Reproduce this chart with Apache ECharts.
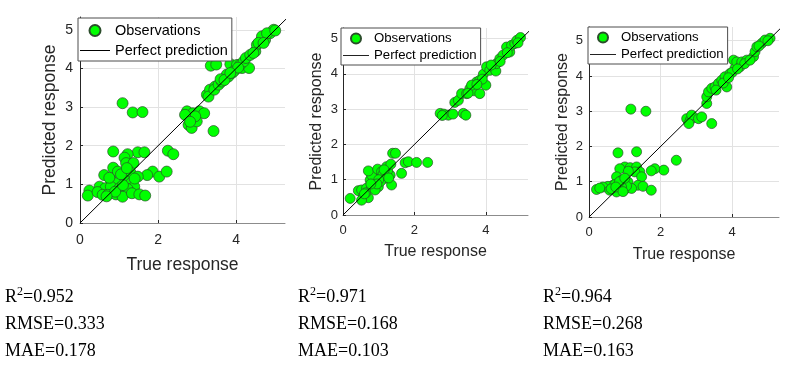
<!DOCTYPE html>
<html>
<head>
<meta charset="utf-8">
<script src="https://cdn.jsdelivr.net/npm/echarts@6/dist/echarts.min.js"></script>
<style>
  html, body { margin: 0; padding: 0; background: #fff; }
  #chart { width: 790px; height: 374px; }
</style>
</head>
<body>
<div id="chart"></div>
<script>
// observations as [true response, predicted response], one array per model
const obs1 = [
  [1.09,3.10],[1.35,2.86],[1.60,2.87],[0.85,1.85],[1.48,1.83],[1.65,1.83],[1.22,1.78],[1.14,1.69],
  [2.25,1.87],[2.39,1.78],[1.18,1.55],[1.37,1.55],[0.85,1.43],[0.62,1.24],[0.97,1.33],[1.29,1.31],
  [1.86,1.33],[1.72,1.24],[2.03,1.20],[2.22,1.33],[1.48,1.20],[1.14,1.11],[0.79,1.11],[0.92,1.03],
  [1.31,1.03],[1.39,0.94],[0.50,0.94],[0.65,0.90],[0.79,0.94],[1.01,0.90],[1.22,0.88],[0.24,0.84],
  [0.20,0.71],[0.45,0.80],[0.58,0.73],[0.71,0.73],[0.92,0.74],[1.09,0.68],[1.33,0.77],[1.52,0.74],
  [1.67,0.71],[0.90,0.81],[1.05,1.26],[0.75,1.17],[1.20,1.42],[1.40,1.15],[0.68,0.69],[1.10,0.98],
  [3.35,4.07],[3.49,4.10],[3.42,2.38],[2.74,2.89],[2.89,2.84],[3.06,2.89],[3.18,2.84],[2.78,2.54],
  [2.86,2.46],[2.99,2.63],[2.95,2.76],[2.69,2.80],[2.82,2.62],[3.25,3.32],[3.33,3.45],[3.46,3.53],
  [3.29,3.27],[3.44,3.45],[3.55,3.58],[3.63,3.66],[3.72,3.75],[3.80,3.79],[3.89,3.88],[3.97,3.96],
  [4.15,4.01],[4.33,4.01],[3.85,4.11],[4.02,4.09],[4.10,4.09],[4.19,4.18],[4.25,4.27],[4.36,4.35],
  [4.49,4.44],[4.53,4.61],[4.62,4.70],[4.74,4.74],[4.87,4.91],[4.96,5.00],[3.76,3.84],[3.93,3.92],
  [3.60,3.72],[4.05,4.02],[4.44,4.40],[4.66,4.83],[4.79,4.91],[4.57,4.66],[4.70,4.66],[5.00,4.98],
  [3.70,3.70],[3.85,3.88]
];
const obs2 = [
  [0.20,0.47],[0.43,0.69],[0.52,0.71],[0.66,0.76],[0.57,0.52],[0.71,0.49],[0.52,0.42],[0.64,0.63],
  [0.80,0.82],[0.90,0.90],[0.76,0.99],[0.99,0.80],[0.85,0.76],[0.90,0.71],[1.04,1.09],[1.18,1.04],
  [1.32,1.13],[0.80,1.13],[0.71,1.25],[0.97,1.30],[1.08,1.23],[1.25,1.26],[1.22,1.37],[1.34,1.44],
  [1.39,1.75],[1.47,1.75],[1.74,1.48],[1.83,1.51],[2.06,1.49],[2.37,1.49],[1.64,1.18],[1.36,0.85],
  [1.05,0.95],[1.12,1.15],[0.60,0.60],[1.00,1.00],[0.95,0.88],[1.15,1.28],[0.78,0.88],[1.28,1.05],
  [2.72,2.88],[2.82,2.86],[2.95,2.83],[3.08,2.86],[2.78,2.82],[3.37,2.88],[3.44,2.83],[3.13,3.19],
  [3.23,3.25],[3.32,3.44],[3.46,3.44],[3.55,3.58],[3.65,3.63],[3.67,3.52],[3.74,3.77],[3.83,3.82],
  [3.83,3.44],[3.93,3.99],[4.00,3.68],[4.02,4.20],[4.11,4.10],[4.20,4.20],[4.28,4.08],[4.30,4.29],
  [4.39,4.43],[4.48,4.53],[4.58,4.76],[4.67,4.62],[4.72,4.81],[4.81,4.86],[4.87,4.95],[4.97,5.03],
  [3.60,3.68],[3.50,3.45],[4.15,4.25],[4.40,4.35],[4.60,4.60],[4.90,4.88],[3.90,3.85],[3.75,3.70]
];
const obs3 = [
  [1.17,3.06],[1.59,3.00],[0.81,1.82],[1.33,1.85],[2.44,1.61],[2.09,1.33],[1.84,1.37],[1.74,1.31],
  [1.00,1.42],[0.86,1.37],[1.15,1.40],[1.33,1.42],[1.42,1.28],[1.28,1.28],[1.10,1.30],[1.47,1.14],
  [0.77,1.14],[0.91,1.04],[1.09,0.99],[0.81,0.95],[0.67,0.90],[0.53,0.87],[0.39,0.85],[0.21,0.78],
  [0.30,0.82],[1.37,0.90],[1.51,0.87],[1.74,0.76],[1.00,0.78],[0.77,0.71],[0.58,0.76],[1.19,0.81],
  [1.05,0.88],[0.91,0.85],[0.72,0.92],[0.62,0.80],[0.85,1.00],[1.00,1.10],[0.75,0.85],[0.95,0.72],
  [2.73,2.79],[2.83,2.75],[2.87,2.89],[3.06,2.79],[3.15,2.84],[2.79,2.65],[3.43,2.65],[3.29,3.22],
  [3.29,3.41],[3.34,3.55],[3.43,3.65],[3.52,3.69],[3.62,3.79],[3.71,3.88],[3.80,3.98],[3.85,3.69],
  [3.94,4.07],[4.04,4.45],[4.08,4.22],[4.13,4.40],[4.22,4.26],[4.27,4.40],[4.41,4.45],[4.60,4.55],
  [4.64,4.69],[4.69,4.83],[4.83,4.93],[4.92,5.02],[5.06,5.07],[3.55,3.60],[3.75,3.80],[4.00,4.10],
  [4.35,4.35],[4.50,4.45],[4.75,4.85],[5.00,5.00],[3.90,3.95],[4.15,4.20]
];
// y = x reference line (clipped by the axes)
const perfectLine = [[0, 0], [6, 6]];

const r2Vals = ['0.952', '0.971', '0.964'];
const rmseVals = ['0.333', '0.168', '0.268'];
const maeVals = ['0.178', '0.103', '0.163'];

const axisColor = '#262626';
const font = 'Liberation Sans, Arial, sans-serif';

// layout of the three panels
const panels = [
  { data: obs1, left: 80, top: 17, width: 205, height: 206, xMax: 5.25, yMax: 5.33,
    nameSize: 17.5, tickSize: 14, legendSize: 14.5, sym: 11, xGap: 33, yGap: 21, xMargin: 10, yMargin: 7,
    legLeft: 78, legTop: 18, legW: 30, legH: 11, legGap: 5, legPad: [5, 4, 3, 2], textX: 5 },
  { data: obs2, left: 343, top: 28, width: 185, height: 187, xMax: 5.18, yMax: 5.3,
    nameSize: 16, tickSize: 13, legendSize: 13.2, sym: 10, xGap: 29, yGap: 18, xMargin: 9, yMargin: 5,
    legLeft: 341, legTop: 28, legW: 26, legH: 10, legGap: 4, legPad: [4, 4, 3, 2], textX: 298 },
  { data: obs3, left: 589, top: 27, width: 190, height: 190, xMax: 5.31, yMax: 5.39,
    nameSize: 16, tickSize: 13, legendSize: 13.2, sym: 10, xGap: 30, yGap: 18, xMargin: 9, yMargin: 6,
    legLeft: 588, legTop: 27, legW: 26, legH: 10, legGap: 4, legPad: [4, 4, 3, 2], textX: 543 }
];

const myChart = echarts.init(document.getElementById('chart'), null, { renderer: 'canvas' });

const option = {
  animation: false,
  backgroundColor: '#fff',
  grid: panels.map(p => ({ left: p.left, top: p.top, width: p.width, height: p.height, containLabel: false })),
  xAxis: panels.map((p, i) => ({
    gridIndex: i, type: 'value', min: 0, max: p.xMax, interval: 2,
    name: 'True response', nameLocation: 'middle', nameGap: p.xGap,
    nameTextStyle: { fontFamily: font, fontSize: p.nameSize, color: axisColor },
    axisLine: { show: true, onZero: false, lineStyle: { color: '#8c8c8c', width: 1 } },
    axisTick: { show: true, inside: true, length: 3, lineStyle: { color: axisColor } },
    axisLabel: { fontFamily: font, fontSize: p.tickSize, color: axisColor, margin: p.xMargin, showMaxLabel: false },
    splitLine: { show: true, showMaxLine: false, lineStyle: { color: '#e2e2e2', width: 1 } }
  })),
  yAxis: panels.map((p, i) => ({
    gridIndex: i, type: 'value', min: 0, max: p.yMax, interval: 1,
    name: 'Predicted response', nameLocation: 'middle', nameGap: p.yGap,
    nameTextStyle: { fontFamily: font, fontSize: p.nameSize, color: axisColor },
    axisLine: { show: true, onZero: false, lineStyle: { color: axisColor, width: 1 } },
    axisTick: { show: true, inside: true, length: 3, lineStyle: { color: axisColor } },
    axisLabel: { fontFamily: font, fontSize: p.tickSize, color: axisColor, margin: p.yMargin, showMaxLabel: false },
    splitLine: { show: true, showMaxLine: false, lineStyle: { color: '#e2e2e2', width: 1 } }
  })),
  legend: panels.map(p => ({
    left: p.legLeft, top: p.legTop, orient: 'vertical',
    data: [
      { name: 'Observations', icon: 'circle' },
      { name: 'Perfect prediction', icon: 'path://M0,0L30,0L30,1L0,1Z', itemStyle: { color: '#000', borderWidth: 0 } }
    ],
    itemWidth: p.legW, itemHeight: p.legH, itemGap: p.legGap,
    padding: p.legPad,
    backgroundColor: '#fff', borderColor: '#4d4d4d', borderWidth: 1,
    textStyle: { fontFamily: font, fontSize: p.legendSize, color: '#000' },
    selectedMode: false
  })),
  series: [].concat(...panels.map((p, i) => ([
    {
      name: 'Observations', type: 'scatter', xAxisIndex: i, yAxisIndex: i,
      symbol: 'circle', symbolSize: p.sym, z: 3,
      itemStyle: { color: '#00ff00', borderColor: '#2b4d2b', borderWidth: 0.7, opacity: 1 },
      data: p.data
    },
    {
      name: 'Perfect prediction', type: 'line', xAxisIndex: i, yAxisIndex: i,
      symbol: 'none', z: 4, clip: true,
      lineStyle: { color: '#000', width: 1 },
      itemStyle: { color: '#000' },
      data: perfectLine
    }
  ]))),
  graphic: panels.map((p, i) => ({
    type: 'text', left: p.textX, top: 284,
    style: {
      text: '{n|R}{s|2}{n|=' + r2Vals[i] + '}\n{n|RMSE=' + rmseVals[i] + '}\n{n|MAE=' + maeVals[i] + '}',
      rich: {
        n: { fontFamily: 'Liberation Serif, Times New Roman, serif', fontSize: 18, lineHeight: 27, fill: '#000' },
        s: { fontFamily: 'Liberation Serif, Times New Roman, serif', fontSize: 12, lineHeight: 27, fill: '#000', verticalAlign: 'top', padding: [2, 0, 0, 0] }
      }
    }
  }))
};

myChart.setOption(option);
</script>
</body>
</html>
